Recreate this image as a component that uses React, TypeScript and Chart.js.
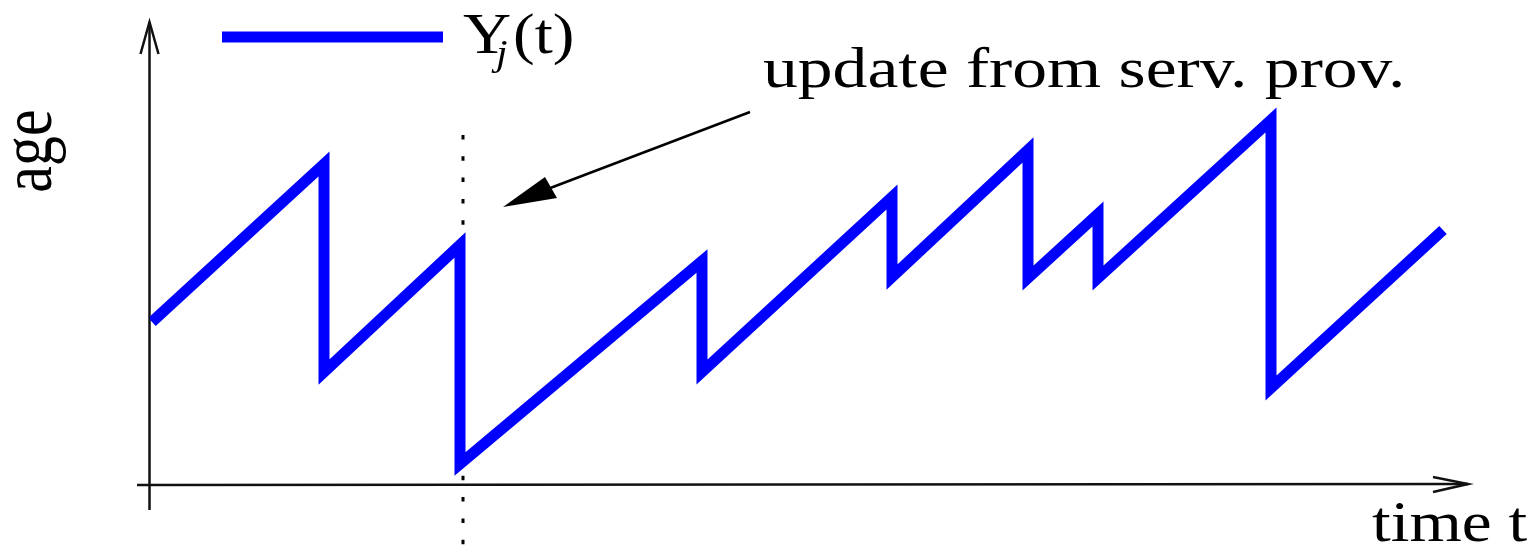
import React, { useEffect, useRef } from 'react';
import { Chart, registerables } from 'chart.js';

Chart.register(...registerables);

// time and age values of the sawtooth Y_j(t)
const timeT = [0.02, 1.74, 1.74, 3.10, 3.10, 5.52, 5.52, 7.42, 7.42, 8.78, 8.78, 9.48, 9.48, 11.21, 11.21, 12.93];
const ageY = [1.63, 3.21, 1.13, 2.40, 0.21, 2.24, 1.13, 2.88, 2.08, 3.35, 2.07, 2.71, 2.07, 3.65, 0.97, 2.55];
const updateTime = 3.13;
const xMax = 13.18;
const yMax = 4.63;
const seriesLabelMain = 'Y';
const seriesLabelSub = 'j';
const seriesLabelTail = '(t)';
const xTitle = 'time t';
const yTitle = 'age';
const annotationText = 'update from serv. prov.';

const BLUE = '#0000ff';
const FONT = '"Liberation Serif"';

function stretchedText(ctx: CanvasRenderingContext2D, text: string, x: number, y: number, size: number, sx: number, italic = false) {
  ctx.save();
  ctx.translate(x, y);
  ctx.scale(sx, 1);
  ctx.font = `${italic ? 'italic ' : ''}${size}px ${FONT}`;
  ctx.fillStyle = '#000';
  ctx.textAlign = 'left';
  ctx.textBaseline = 'alphabetic';
  ctx.fillText(text, 0, 0);
  ctx.restore();
}

const decorPlugin = {
  id: 'decor',
  beforeDatasetsDraw(chart: any) {
    const ctx: CanvasRenderingContext2D = chart.ctx;
    const { left, right, top, bottom } = chart.chartArea;
    const xs = chart.scales.x;
    ctx.save();
    // dotted update line
    const ux = xs.getPixelForValue(updateTime);
    ctx.strokeStyle = '#000';
    ctx.lineWidth = 3;
    ctx.setLineDash([4.5, 16.8]);
    ctx.beginPath();
    ctx.moveTo(ux, 135);
    ctx.lineTo(ux, chart.height);
    ctx.stroke();
    ctx.setLineDash([]);
    // axes
    ctx.strokeStyle = '#111';
    ctx.lineWidth = 2.5;
    ctx.beginPath();
    ctx.moveTo(left - 0.5, bottom + 25);
    ctx.lineTo(left - 0.5, top);
    ctx.moveTo(left - 13, bottom);
    ctx.lineTo(right, bottom - 1);
    ctx.stroke();
    // arrow heads
    ctx.beginPath();
    ctx.moveTo(left - 9.5, top + 32);
    ctx.lineTo(left - 0.5, top);
    ctx.lineTo(left + 8.5, top + 32);
    ctx.moveTo(right - 35, bottom - 8);
    ctx.lineTo(right, bottom - 1);
    ctx.lineTo(right - 35, bottom + 7);
    ctx.stroke();
    ctx.restore();
  },
  afterDraw(chart: any) {
    const ctx: CanvasRenderingContext2D = chart.ctx;
    ctx.save();
    // legend
    ctx.strokeStyle = BLUE;
    ctx.lineWidth = 11;
    ctx.lineCap = 'butt';
    ctx.beginPath();
    ctx.moveTo(222, 37);
    ctx.lineTo(443, 37);
    ctx.stroke();
    stretchedText(ctx, seriesLabelMain, 463, 53, 58, 1.15);
    stretchedText(ctx, seriesLabelSub, 496, 65, 36, 1.15, true);
    stretchedText(ctx, seriesLabelTail, 513, 53, 58, 1.12);
    // annotation
    stretchedText(ctx, annotationText, 763, 87, 58, 1.2);
    ctx.strokeStyle = '#000';
    ctx.lineWidth = 2.5;
    ctx.beginPath();
    ctx.moveTo(750, 112);
    ctx.lineTo(545, 190);
    ctx.stroke();
    ctx.fillStyle = '#000';
    ctx.beginPath();
    ctx.moveTo(503, 207);
    ctx.lineTo(545, 177);
    ctx.lineTo(557, 198);
    ctx.closePath();
    ctx.fill();
    // axis titles
    stretchedText(ctx, xTitle, 1372, 541, 58, 1.16);
    ctx.save();
    ctx.translate(51, 151);
    ctx.scale(1.2, 1);
    ctx.rotate(-Math.PI / 2);
    ctx.font = `60px ${FONT}`;
    ctx.fillStyle = '#000';
    ctx.textAlign = 'center';
    ctx.textBaseline = 'alphabetic';
    ctx.fillText(yTitle, 0, 0);
    ctx.restore();
    ctx.restore();
  },
};

export default function App() {
  const ref = useRef<HTMLCanvasElement | null>(null);
  useEffect(() => {
    document.body.style.margin = '0';
    const canvas = ref.current;
    if (!canvas) return;
    let chart: Chart | null = null;
    let cancelled = false;
    const build = () => {
      if (cancelled) return;
      chart = new Chart(canvas, {
        type: 'line',
        data: {
          datasets: [
            {
              label: 'Yj(t)',
              data: timeT.map((t, i) => ({ x: t, y: ageY[i] })),
              borderColor: BLUE,
              backgroundColor: BLUE,
              borderWidth: 11,
              borderJoinStyle: 'miter',
              borderCapStyle: 'butt',
              pointRadius: 0,
              tension: 0,
              fill: false,
            },
          ],
        },
        options: {
          animation: false,
          responsive: false,
          events: [],
          layout: { padding: { left: 150, right: 66, top: 22, bottom: 64 } },
          scales: {
            x: { type: 'linear', min: 0, max: xMax, display: false },
            y: { type: 'linear', min: 0, max: yMax, display: false },
          },
          plugins: { legend: { display: false }, tooltip: { enabled: false } },
        },
        plugins: [decorPlugin],
      } as any);
    };
    const fonts: any = (document as any).fonts;
    if (fonts && fonts.load) {
      Promise.all([
        fonts.load(`58px ${FONT}`),
        fonts.load(`italic 36px ${FONT}`),
      ]).then(build, build);
    } else {
      build();
    }
    return () => {
      cancelled = true;
      if (chart) chart.destroy();
    };
  }, []);
  return (
    <div style={{ width: 1534, height: 549, background: '#fff', fontFamily: FONT }}>
      <canvas ref={ref} width={1534} height={549} style={{ display: 'block' }} />
    </div>
  );
}
